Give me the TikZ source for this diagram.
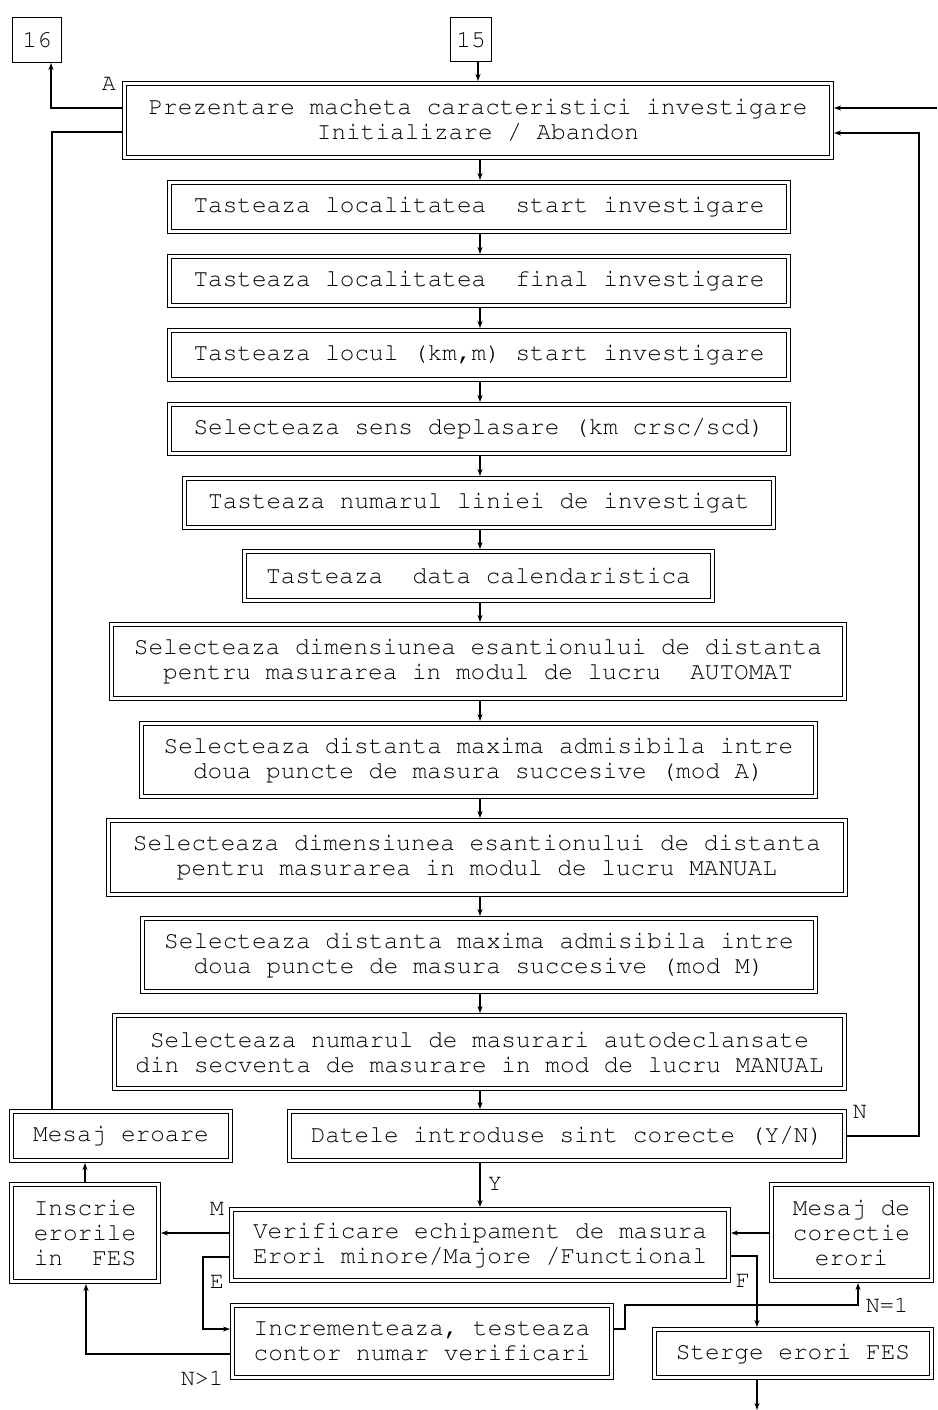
\documentclass[tikz,border=0pt]{standalone}
\usepackage[T1]{fontenc}
\usepackage{courier}
\renewcommand\familydefault{\ttdefault}
\usetikzlibrary{arrows.meta,calc}

% double-framed box placed by its outer edges: name, left, right, top, bottom, text
\newcommand\dbox[6]{%
  \node[dframe, minimum width={#3-#2-4.8}, minimum height={#5-#4-4.8}]
    (#1) at ({(#2+#3)/2},{(#4+#5)/2}) {#6};}

\begin{document}
\begin{tikzpicture}[x=1pt,y=-1pt,
  txt/.style={font=\fontsize{24.4}{25}\selectfont},
  dframe/.style={txt, draw, double, line width=1.1pt, double distance=2.6pt,
    outer sep=2.4pt, inner sep=0pt, align=center},
  sframe/.style={txt, draw, line width=1.3pt, outer sep=0.65pt, inner sep=0pt},
  lbl/.style={font=\fontsize{23.5}{24}\selectfont, inner sep=0pt},
  arr/.style={line width=1.3pt, -{Stealth[length=7pt,width=5pt]}},
  ln/.style={line width=1.3pt}]
\frenchspacing
\useasboundingbox (0,0) rectangle (937,1410);

% connector boxes at the top
\node[sframe, minimum width=48.7, minimum height=44.7] (n16) at (37,40) {16};
\node[sframe, minimum width=40.7, minimum height=43.7] (n15) at (471,39.5) {15};

% main column
\dbox{main}{122}{834}{81}{160}{Prezentare macheta caracteristici investigare\\Initializare / Abandon}
\dbox{b1}{167}{791}{180}{234}{Tasteaza localitatea~ start investigare}
\dbox{b2}{167}{791}{254}{308}{Tasteaza localitatea~ final investigare}
\dbox{b3}{167}{791}{328}{382}{Tasteaza locul (km,m) start investigare}
\dbox{b4}{167}{791}{402}{456}{Selecteaza sens deplasare (km crsc/scd)}
\dbox{b5}{182}{776}{476}{530}{Tasteaza numarul liniei de investigat}
\dbox{b6}{242}{715}{549}{603}{Tasteaza~ data calendaristica}
\dbox{b7}{109}{847}{622}{701}{Selecteaza dimensiunea esantionului de distanta\\pentru masurarea in modul de lucru~ AUTOMAT}
\dbox{b8}{139}{818}{721}{799}{Selecteaza distanta maxima admisibila intre\\doua puncte de masura succesive (mod A)}
\dbox{b9}{106}{848}{818}{897}{Selecteaza dimensiunea esantionului de distanta\\pentru masurarea in modul de lucru MANUAL}
\dbox{b10}{140}{818}{916}{994}{Selecteaza distanta maxima admisibila intre\\doua puncte de masura succesive (mod M)}
\dbox{b11}{112}{847}{1013}{1091}{Selecteaza numarul de masurari autodeclansate\\din secventa de masurare in mod de lucru MANUAL}

% lower part
\dbox{datele}{287}{847}{1109}{1163}{Datele introduse sint corecte (Y/N)}
\dbox{merr}{9}{233}{1109}{1163}{Mesaj eroare}
\dbox{inscrie}{9}{161}{1182}{1284}{Inscrie\\erorile\\in~ FES}
\dbox{verif}{229}{731}{1207}{1283}{Verificare echipament de masura\\Erori minore/Majore /Functional}
\dbox{incr}{230}{614}{1303}{1380}{Incrementeaza, testeaza\\contor numar verificari}
\dbox{corr}{769}{934}{1182}{1283}{Mesaj de\\corectie\\erori}
\dbox{sterge}{652}{934}{1327}{1380}{Sterge erori FES}

% labels
\node[lbl] (lA) at (109,84) {A};
\node[lbl] (lN) at (860,1112) {N};
\node[lbl] (lY) at (495,1184) {Y};
\node[lbl] (lM) at (217,1209) {M};
\node[lbl] (lE) at (217,1282) {E};
\node[lbl] (lN1) at (202,1378) {N>1};
\node[lbl] (lF) at (743,1281) {F};
\node[lbl] (lNeq) at (887,1305) {N=1};

% routing points
\coordinate (cx) at (480,0);
\coordinate (rin) at (937,108);
\coordinate (rt) at (919,133);
\coordinate (lt) at (52,1109);
\coordinate (ebend) at (203,1329);
\coordinate (nbend) at (625,1305);
\coordinate (out) at (757,1410);

% vertical flow through the main column
\draw[arr] (n15.south -| 478,0) -- (main.north -| 478,0);
\foreach \a/\b in {main/b1,b1/b2,b2/b3,b3/b4,b4/b5,b5/b6,b6/b7,b7/b8,b8/b9,b9/b10,b10/b11,b11/datele,datele/verif}
  \draw[arr] (\a.south -| cx) -- (\b.north -| cx);

% left side
\draw[arr] (main.west |- 0,108) -| (n16.south -| 51,0);
\draw[ln] (main.west |- 0,132) -| (lt);

% right side
\draw[arr] (rin) -- (main.east |- rin);
\draw[arr] (datele.east) -| (rt) -- (main.east |- rt);

% error handling
\draw[arr] (inscrie.north -| 85,0) -- (merr.south -| 85,0);
\draw[arr] (verif.west |- 0,1233) -- (inscrie.east |- 0,1233);
\draw[arr] (verif.west |- 0,1257) -| (ebend) -- (incr.west |- ebend);
\draw[arr] (incr.west |- 0,1354) -| (inscrie.south -| 86,0);
\draw[arr] (corr.west |- 0,1233) -- (verif.east |- 0,1233);
\draw[arr] (verif.east |- 0,1256) -| (sterge.north -| out);
\draw[arr] (incr.east |- ebend) -| (nbend) -| (corr.south -| 858,0);
\draw[arr] (sterge.south -| out) -- (out);
\end{tikzpicture}
\end{document}
